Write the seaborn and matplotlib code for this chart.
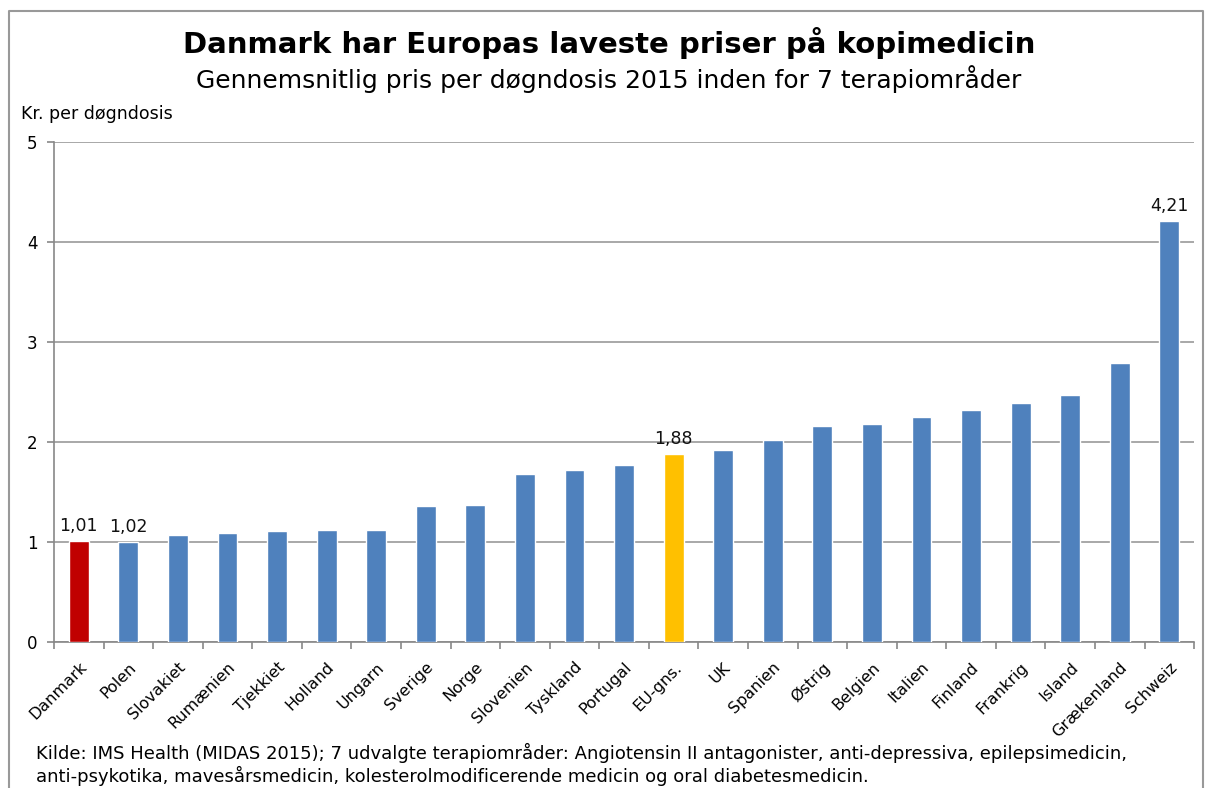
import matplotlib
matplotlib.use("Agg")
import matplotlib.pyplot as plt
import seaborn as sns
import pandas as pd

countries = ["Danmark", "Polen", "Slovakiet", "Rumænien", "Tjekkiet", "Holland", "Ungarn",
             "Sverige", "Norge", "Slovenien", "Tyskland", "Portugal", "EU-gns.", "UK",
             "Spanien", "Østrig", "Belgien", "Italien", "Finland", "Frankrig", "Island",
             "Grækenland", "Schweiz"]
prices = [1.01, 1.00, 1.07, 1.09, 1.11, 1.12, 1.12, 1.36, 1.37, 1.68, 1.72, 1.77, 1.88,
          1.92, 2.02, 2.16, 2.18, 2.25, 2.32, 2.39, 2.47, 2.79, 4.21]
shown_labels = {"Danmark": "1,01", "Polen": "1,02", "EU-gns.": "1,88", "Schweiz": "4,21"}

blue, red, yellow = "#4F81BD", "#C00000", "#FFC000"
colors = {c: blue for c in countries}
colors["Danmark"] = red
colors["EU-gns."] = yellow

df = pd.DataFrame({"land": countries, "pris": prices})

sns.set_style("white")
plt.rcParams["font.family"] = ["DejaVu Sans"]
plt.rcParams["text.color"] = "black"
plt.rcParams["xtick.color"] = "black"
plt.rcParams["ytick.color"] = "black"

fig = plt.figure(figsize=(12.06, 7.88), dpi=100)
ax = fig.add_axes([0.0448, 0.185, 0.9454, 0.635])

sns.barplot(data=df, x="land", y="pris", hue="land", palette=colors, legend=False,
            width=0.4, saturation=1, ax=ax, zorder=3)

ax.set_ylim(0, 5)
ax.set_xlim(-0.5, len(countries) - 0.5)
ax.set_yticks([0, 1, 2, 3, 4, 5])
ax.set_yticklabels(["0", "1", "2", "3", "4", "5"], fontsize=12)
ax.yaxis.grid(True, color="#999999", linewidth=1.2, zorder=0)
ax.set_axisbelow(True)
ax.set_xlabel("")
ax.set_ylabel("")

# ticks between categories
ax.set_xticks([i - 0.5 for i in range(len(countries) + 1)], minor=True)
ax.set_xticks(range(len(countries)))
ax.set_xticklabels(countries, rotation=45, ha="right", rotation_mode="anchor", fontsize=11.5)
ax.tick_params(axis="x", which="major", bottom=False, pad=9)
ax.tick_params(axis="x", which="minor", bottom=True, length=5, color="#888888", width=1.2)
ax.tick_params(axis="y", left=True, length=5, color="#888888", width=1.2, pad=7)

for s in ["top", "right"]:
    ax.spines[s].set_visible(False)
for s in ["left", "bottom"]:
    ax.spines[s].set_color("#888888")
    ax.spines[s].set_linewidth(1.2)

for i, c in enumerate(countries):
    if c in shown_labels:
        ax.text(i, max(prices[i], 1.0) + 0.06, shown_labels[c], ha="center", va="bottom",
                fontsize=12.5, color="#111111")

fig.text(0.505, 0.945, "Danmark har Europas laveste priser på kopimedicin", ha="center",
         va="center", fontsize=21, fontweight="bold")
fig.text(0.505, 0.9, "Gennemsnitlig pris per døgndosis 2015 inden for 7 terapiområder",
         ha="center", va="center", fontsize=18)
fig.text(0.017, 0.855, "Kr. per døgndosis", ha="left", va="center", fontsize=12.5)
fig.text(0.03, 0.03, "Kilde: IMS Health (MIDAS 2015); 7 udvalgte terapiområder: Angiotensin II antagonister, anti-depressiva, epilepsimedicin,\n"
         "anti-psykotika, mavesårsmedicin, kolesterolmodificerende medicin og oral diabetesmedicin.",
         ha="left", va="center", fontsize=13, linespacing=1.2)

# outer frame
frame = plt.Line2D([0.0075, 0.0075, 0.9975, 0.9975], [0.0, 0.986, 0.986, 0.0],
                   transform=fig.transFigure, color="#999999", linewidth=1.5)
fig.add_artist(frame)

fig.savefig("out.png", dpi=100)
